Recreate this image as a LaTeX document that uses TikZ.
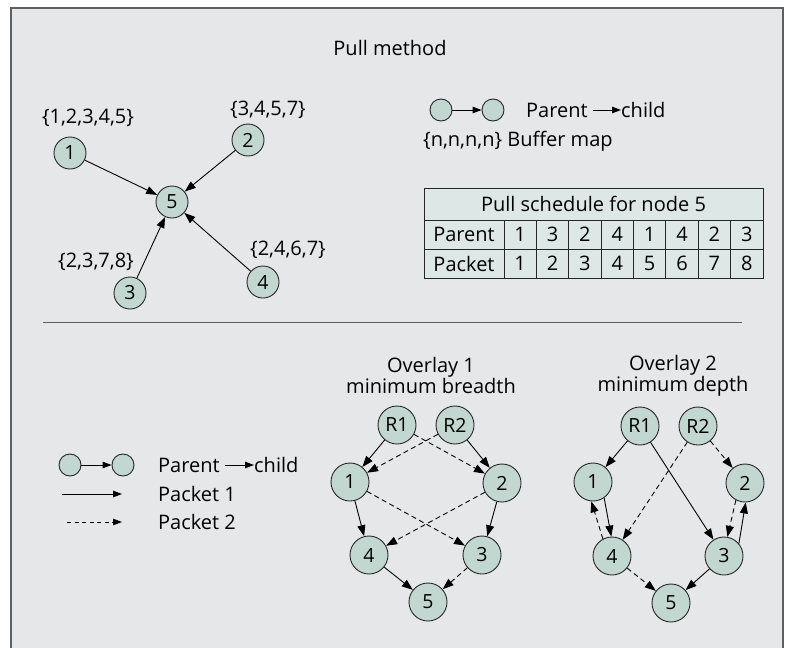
\documentclass[tikz,border=0pt]{standalone}
\usepackage{fontspec}
\setmainfont{Open Sans}
\usetikzlibrary{arrows.meta}
\definecolor{bgc}{RGB}{230,231,232}
\definecolor{nodec}{RGB}{194,215,208}
\definecolor{tabc}{RGB}{221,232,230}
\definecolor{framec}{RGB}{95,95,95}
\begin{document}
\begin{tikzpicture}[x=1pt,y=-1pt,
 txt/.style={font=\fontsize{20}{21}\selectfont, inner sep=0pt},
 circ/.style={circle, draw=black!85, fill=nodec, line width=0.9pt, inner sep=0pt, font=\fontsize{19.5}{22}\selectfont},
 smallc/.style={circ, minimum size=32pt},
 bigc/.style={circ, minimum size=38pt},
 tinyc/.style={circ, minimum size=22pt},
 edge/.style={line width=0.9pt, -{Triangle[length=11pt,width=8pt]}},
 dedge/.style={edge, dash pattern=on 5pt off 3.5pt},
 ledge/.style={line width=0.9pt, -{Triangle[length=9pt,width=6.5pt]}},
 cell/.style={draw=black!85, fill=tabc, line width=0.9pt, minimum height=29pt, inner sep=0pt, font=\fontsize{20}{24}\selectfont}]
\useasboundingbox (0,0) rectangle (798,648);
\fill[white] (0,0) rectangle (798,648);
\draw[framec, fill=bgc, line width=1.5pt] (11,8) rectangle (783,660);

% ---------- top: pull method ----------
\node[txt] (title) at (390,48) {Pull method};

\node[smallc] (t1) at (70,153) {1};
\node[smallc] (t2) at (248,140) {2};
\node[smallc] (t5) at (172,202) {5};
\node[smallc] (t3) at (130,293) {3};
\node[smallc] (t4) at (263,282) {4};
\node[txt] (b1) at (88,118) {\{1,2,3,4,5\}};
\node[txt] (b2) at (268,110) {\{3,4,5,7\}};
\node[txt] (b3) at (96,262) {\{2,3,7,8\}};
\node[txt] (b4) at (288,250) {\{2,4,6,7\}};
\draw[edge] (t1) -- (t5);
\draw[edge] (t2) -- (t5);
\draw[edge] (t3) -- (t5);
\draw[edge] (t4) -- (t5);

% top legend
\node[tinyc] (la) at (441,110) {};
\node[tinyc] (lb) at (493,110) {};
\draw[ledge] (la) -- (lb);
\node[txt, anchor=west] (lpar) at (526,110) {Parent};
\node[txt, anchor=west] (lchi) at (621,110) {child};
\draw[ledge] (lpar.east) ++(5,0) coordinate (lps) -- (lchi.west);
\node[txt, anchor=west] (lbuf) at (423,141) {\{n,n,n,n\} Buffer map};

% table
\node[cell, minimum width=339pt, minimum height=32pt] (thead) at (593.5,204) {Pull schedule for node 5};
\node[cell, minimum width=80pt] (tpar) at (464,234.5) {Parent};
\node[cell, minimum width=80pt] (tpac) at (464,263.5) {Packet};
\foreach \v [count=\i] in {1,3,2,4,1,4,2,3}
  \node[cell, minimum width=32.375pt] (pa\i) at ({504+32.375*(\i-0.5)},234.5) {\v};
\foreach \v [count=\i] in {1,2,3,4,5,6,7,8}
  \node[cell, minimum width=32.375pt] (pk\i) at ({504+32.375*(\i-0.5)},263.5) {\v};

% separator
\coordinate (sepl) at (43,322);
\coordinate (sepr) at (742,322);
\draw[framec, line width=1pt] (sepl) -- (sepr);

% ---------- bottom legend ----------
\node[tinyc] (ba) at (70,465) {};
\node[tinyc] (bb) at (123,465) {};
\draw[ledge] (ba) -- (bb);
\node[txt, anchor=west] (bpar) at (158,465) {Parent};
\node[txt, anchor=west] (bchi) at (254,465) {child};
\draw[ledge] (bpar.east) ++(5,0) coordinate (bps) -- (bchi.west);
\coordinate (p1a) at (62,494);
\coordinate (p1b) at (122,494);
\draw[ledge] (p1a) -- (p1b);
\node[txt, anchor=west] (pk1t) at (158,494) {Packet 1};
\coordinate (p2a) at (67,522);
\coordinate (p2b) at (122,522);
\draw[ledge, dash pattern=on 4pt off 3.5pt] (p2a) -- (p2b);
\node[txt, anchor=west] (pk2t) at (158,522) {Packet 2};

% ---------- overlay 1 ----------
\node[txt, align=center] (o1t) at (431,375.5) {Overlay 1\\minimum breadth};
\node[bigc] (aR1) at (397,425) {R1};
\node[bigc] (aR2) at (455,425) {R2};
\node[bigc] (a1) at (350,482) {1};
\node[bigc] (a2) at (502,483) {2};
\node[bigc] (a4) at (369,555) {4};
\node[bigc] (a3) at (482,555) {3};
\node[bigc] (a5) at (428,602) {5};
\draw[edge] (aR1) -- (a1);
\draw[edge] (aR2) -- (a2);
\draw[dedge] (aR1) -- (a2);
\draw[dedge] (aR2) -- (a1);
\draw[edge] (a1) -- (a4);
\draw[edge] (a2) -- (a3);
\draw[dedge] (a1) -- (a3);
\draw[dedge] (a2) -- (a4);
\draw[edge] (a4) -- (a5);
\draw[dedge] (a3) -- (a5);

% ---------- overlay 2 ----------
\node[txt, align=center] (o2t) at (673,375.5) {Overlay 2\\minimum depth};
\node[bigc] (bR1) at (640,426) {R1};
\node[bigc] (bR2) at (698,426) {R2};
\node[bigc] (b1n) at (593,482) {1};
\node[bigc] (b2n) at (745,483) {2};
\node[bigc] (b4n) at (612,556) {4};
\node[bigc] (b3n) at (724,556) {3};
\node[bigc] (b5n) at (671,603) {5};
\draw[edge] (bR1) -- (b1n);
\draw[edge] (bR1) -- (b3n);
\draw[dedge] (bR2) -- (b4n);
\draw[dedge] (bR2) -- (b2n);
\draw[edge] (b1n.-55) -- (b4n.92);
\draw[dedge] (b4n.118) -- (b1n.-95);
\draw[dedge] (b2n.-118) -- (b3n.80);
\draw[edge] (b3n.40) -- (b2n.-88);
\draw[dedge] (b4n) -- (b5n);
\draw[edge] (b3n) -- (b5n);
\end{tikzpicture}
\end{document}
